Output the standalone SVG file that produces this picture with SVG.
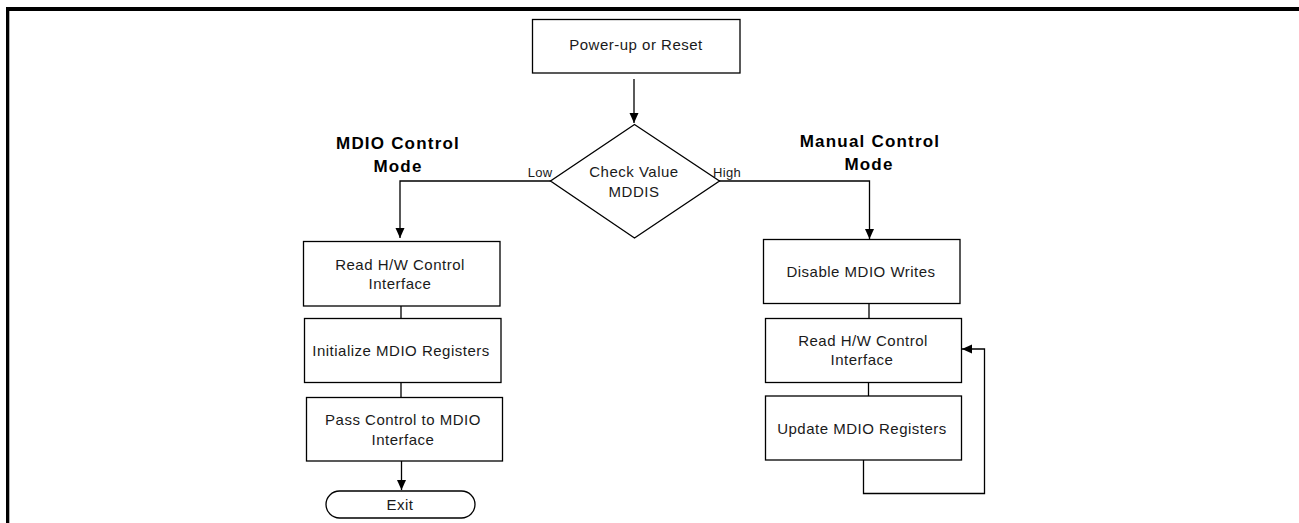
<svg xmlns="http://www.w3.org/2000/svg" width="1299" height="523" viewBox="0 0 1299 523">
<style>
.box{fill:#fff;stroke:#000;stroke-width:1.3}
.ln{fill:none;stroke:#000;stroke-width:1.3}
.t{font-family:"Liberation Sans",Arial,sans-serif;font-size:15px;letter-spacing:0.5px;fill:#1a1a1a;text-anchor:middle}
.s{font-family:"Liberation Sans",Arial,sans-serif;font-size:13px;letter-spacing:0.3px;fill:#1a1a1a;text-anchor:middle}
.b{font-family:"Liberation Sans",Arial,sans-serif;font-size:17px;font-weight:bold;letter-spacing:1.2px;fill:#000;text-anchor:middle}
</style>
<defs>
<marker id="ah" markerUnits="userSpaceOnUse" markerWidth="10" markerHeight="10" viewBox="0 0 10 10" refX="10" refY="5" orient="auto">
<path d="M0,0.5 L10,5 L0,9.5 Z" fill="#000"/>
</marker>
</defs>
<rect width="1299" height="523" fill="#fff"/>
<g id="frame">
<rect x="6" y="7" width="1293" height="4" fill="#000"/>
<rect x="6" y="7" width="3.3" height="516" fill="#000"/>
</g>
<g id="connectors">
<path class="ln" d="M634,79 V123" marker-end="url(#ah)"/>
<path class="ln" d="M551,181 H400 V238" marker-end="url(#ah)"/>
<path class="ln" d="M719,181 H869.5 V239" marker-end="url(#ah)"/>
<path class="ln" d="M401,306 V318"/>
<path class="ln" d="M401,383 V397"/>
<path class="ln" d="M401.5,461 V490" marker-end="url(#ah)"/>
<path class="ln" d="M869,303.5 V318"/>
<path class="ln" d="M868.5,383 V396"/>
<path class="ln" d="M863.5,460 V493.5 H984.5 V349 H962" marker-end="url(#ah)"/>
</g>
<g id="labels">
<text class="b" x="398" y="149">MDIO Control</text>
<text class="b" x="398" y="171.5">Mode</text>
<text class="b" x="870" y="147">Manual Control</text>
<text class="b" x="869" y="170">Mode</text>
<text class="s" x="540" y="177">Low</text>
<text class="s" x="727" y="177">High</text>
</g>
<g id="power-up">
<rect class="box" x="532.5" y="19.5" width="207.5" height="53.5"/>
<text class="t" x="636" y="49.5">Power-up or Reset</text>
</g>
<g id="check-mddis">
<polygon class="box" points="634.5,124.5 719.5,181 634.5,238 550.5,181"/>
<text class="t" x="634" y="177">Check Value</text>
<text class="t" x="634" y="197">MDDIS</text>
</g>
<g id="left-read">
<rect class="box" x="303.5" y="241.5" width="196.5" height="64.5"/>
<text class="t" x="400" y="269.5">Read H/W Control</text>
<text class="t" x="400" y="289">Interface</text>
</g>
<g id="left-init">
<rect class="box" x="304.5" y="318.5" width="196.5" height="64"/>
<text class="t" x="401" y="356">Initialize MDIO Registers</text>
</g>
<g id="left-pass">
<rect class="box" x="306.5" y="397.5" width="196" height="63.5"/>
<text class="t" x="403" y="425">Pass Control to MDIO</text>
<text class="t" x="403" y="445">Interface</text>
</g>
<g id="exit">
<rect class="box" x="326" y="491" width="149" height="27" rx="13.5" ry="13.5"/>
<text class="t" x="400" y="510">Exit</text>
</g>
<g id="right-disable">
<rect class="box" x="763.5" y="239.5" width="196.5" height="64"/>
<text class="t" x="861" y="277">Disable MDIO Writes</text>
</g>
<g id="right-read">
<rect class="box" x="765.5" y="318.5" width="196" height="64"/>
<text class="t" x="863" y="346">Read H/W Control</text>
<text class="t" x="862" y="365">Interface</text>
</g>
<g id="right-update">
<rect class="box" x="765.5" y="396" width="196" height="64"/>
<text class="t" x="862" y="434">Update MDIO Registers</text>
</g>
</svg>
